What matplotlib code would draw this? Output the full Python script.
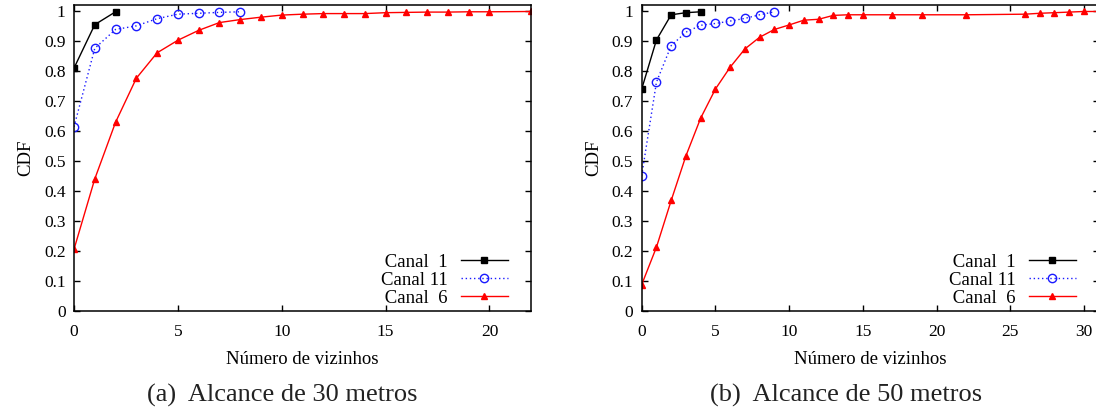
import matplotlib
matplotlib.use('Agg')
import matplotlib.pyplot as plt
from matplotlib.ticker import FormatStrFormatter

plt.rcParams['font.family'] = ['Liberation Serif', 'DejaVu Serif']

# (a) alcance de 30 metros
a_x_c1 = [0, 1, 2]
a_y_c1 = [0.811, 0.956, 0.999]
a_x_c11 = [0, 1, 2, 3, 4, 5, 6, 7, 8]
a_y_c11 = [0.615, 0.877, 0.940, 0.952, 0.976, 0.991, 0.994, 0.997, 0.999]
a_x_c6 = [0, 1, 2, 3, 4, 5, 6, 7, 8, 9, 10, 11, 12, 13, 14, 15, 16, 17, 18, 19, 20, 22]
a_y_c6 = [0.206, 0.441, 0.630, 0.777, 0.862, 0.904, 0.937, 0.963, 0.973, 0.981,
          0.988, 0.991, 0.993, 0.993, 0.993, 0.996, 0.997, 0.998, 0.998, 0.999,
          0.999, 1.0]

# (b) alcance de 50 metros
b_x_c1 = [0, 1, 2, 3, 4]
b_y_c1 = [0.741, 0.905, 0.989, 0.996, 0.999]
b_x_c11 = [0, 1, 2, 3, 4, 5, 6, 7, 8, 9]
b_y_c11 = [0.452, 0.764, 0.886, 0.931, 0.954, 0.960, 0.968, 0.977, 0.989, 0.999]
b_x_c6 = [0, 1, 2, 3, 4, 5, 6, 7, 8, 9, 10, 11, 12, 13, 14, 15, 17, 19, 22,
          26, 27, 28, 29, 30, 32]
b_y_c6 = [0.088, 0.213, 0.369, 0.518, 0.644, 0.741, 0.814, 0.875, 0.914, 0.940,
          0.955, 0.971, 0.974, 0.987, 0.989, 0.989, 0.989, 0.989, 0.989,
          0.991, 0.994, 0.996, 0.998, 1.0, 1.0]

labels = [' Canal  1', 'Canal 11', ' Canal  6']
captions = ['(a)  Alcance de 30 metros', '(b)  Alcance de 50 metros']

W, H = 1096, 411
fig = plt.figure(figsize=(W / 100, H / 100), dpi=100)


def panel(left_px, xmax, xticks, data, caption, cap_x):
    ax = fig.add_axes([left_px / W, (H - 311) / H, 457 / W, 305.5 / H])
    (x1, y1), (x11, y11), (x6, y6) = data
    ax.plot(x1, y1, color='black', lw=1.0, marker='s', ms=4, label=labels[0])
    ax.plot(x11, y11, color='#1a1aff', lw=1.0, ls=(0, (1, 2)), marker='o', ms=6,
            mfc='none', mec='#1a1aff', mew=1.0, label=labels[1])
    ax.plot(x6, y6, color='red', lw=1.0, marker='^', ms=5, label=labels[2])
    ax.set_xlim(0, xmax)
    ax.set_ylim(0, 1.02)
    ax.set_xticks(xticks)
    ax.set_yticks([i / 10 for i in range(11)])
    ax.yaxis.set_major_formatter(FormatStrFormatter('%g'))
    ax.tick_params(direction='in', top=True, right=True, length=4, width=1,
                   labelsize=12.5)
    ax.tick_params(axis='x', pad=9)
    ax.tick_params(axis='y', pad=6)
    for s in ax.spines.values():
        s.set_linewidth(1.1)
    ax.set_xlabel('Número de vizinhos', fontsize=13.5, labelpad=8)
    ax.set_ylabel('CDF', fontsize=13.5, labelpad=7)
    ax.legend(loc='lower right', frameon=False, markerfirst=False, fontsize=13.5,
              handlelength=2.5, handletextpad=0.7, labelspacing=0.05,
              borderaxespad=0.3, bbox_to_anchor=(1 - 10 / 457, -9 / 305.5))
    fig.text(cap_x / W, (H - 395) / H, caption, ha='center', va='center',
             fontsize=19, color='#222222')
    return ax


panel(74, 22, [0, 5, 10, 15, 20],
      [(a_x_c1, a_y_c1), (a_x_c11, a_y_c11), (a_x_c6, a_y_c6)], captions[0], 282)
panel(641.7, 31, [0, 5, 10, 15, 20, 25, 30],
      [(b_x_c1, b_y_c1), (b_x_c11, b_y_c11), (b_x_c6, b_y_c6)], captions[1], 846)

fig.savefig('out.png', dpi=100, facecolor='white')
